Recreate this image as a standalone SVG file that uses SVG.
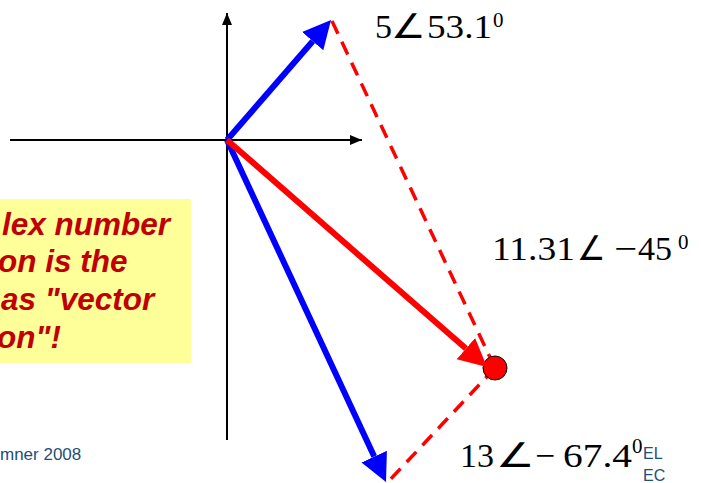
<svg xmlns="http://www.w3.org/2000/svg" width="701" height="483" viewBox="0 0 701 483">
<style>
.ax{stroke:#000;stroke-width:2;fill:none}
.vb{stroke:#0000FF;stroke-width:6;fill:none}
.vr{stroke:#FF0000;stroke-width:6;fill:none}
.dash{stroke:#FF0000;stroke-width:3.5;stroke-dasharray:14,9;fill:none}
.note{font-family:"Liberation Sans",Arial,sans-serif;font-weight:bold;font-style:italic;font-size:31.5px;fill:#C00000}
.math{font-family:"Liberation Serif","Times New Roman",serif;font-size:34px;fill:#000}
.sup{font-family:"Liberation Serif","Times New Roman",serif;font-size:21px;fill:#000}
.foot{font-family:"Liberation Sans",Arial,sans-serif;font-size:17px;fill:#1F4E79}
.foot2{font-family:"Liberation Sans",Arial,sans-serif;font-size:16px;fill:#1F4E79}
</style>
<defs>
<marker id="ahAx" markerUnits="userSpaceOnUse" markerWidth="14" markerHeight="12" refX="12" refY="5" orient="auto" viewBox="0 0 14 10"><path d="M0,0 L12,5 L0,10 Z" fill="#000"/></marker>
<marker id="ahB" markerUnits="userSpaceOnUse" markerWidth="30" markerHeight="30" refX="0" refY="14" orient="auto" viewBox="0 0 30 28"><path d="M0,0 L28,14 L0,28 Z" fill="#0000FF"/></marker>
<marker id="ahR" markerUnits="userSpaceOnUse" markerWidth="30" markerHeight="30" refX="0" refY="14" orient="auto" viewBox="0 0 30 28"><path d="M0,0 L28,14 L0,28 Z" fill="#FF0000"/></marker>
</defs>
<g id="note">
<rect x="0" y="199" width="191" height="164" fill="#FFFF99"/>
<text class="note" x="2" y="235">lex number</text>
<text class="note" x="-2" y="272">on is the</text>
<text class="note" x="1" y="310">as "vector</text>
<text class="note" x="-3" y="348">on"!</text>
</g>
<g id="axes">
<line class="ax" x1="227" y1="440" x2="227" y2="13" marker-end="url(#ahAx)"/>
<line class="ax" x1="10" y1="140" x2="362" y2="140" marker-end="url(#ahAx)"/>
</g>
<g id="connectors">
<line class="dash" x1="332" y1="21" x2="495" y2="368"/>
<line class="dash" x1="495" y1="368" x2="387" y2="483"/>
<line class="vb" x1="227" y1="140" x2="312.7" y2="41.2" marker-end="url(#ahB)"/>
<line class="vb" x1="227" y1="140" x2="374.2" y2="456.6" marker-end="url(#ahB)"/>
<circle id="dot" cx="495" cy="368" r="12" fill="#FF0000" stroke="#000" stroke-width="1"/>
<line class="vr" x1="227" y1="140" x2="465.9" y2="348.6" marker-end="url(#ahR)"/>
</g>
<g id="label1">
<text class="math" x="375" y="38">5</text>
<text class="math" x="391" y="38" textLength="34" lengthAdjust="spacingAndGlyphs">∠</text>
<text class="math" x="427" y="38" textLength="65" lengthAdjust="spacingAndGlyphs">53.1</text>
<text class="sup" x="493" y="27">0</text>
</g>
<g id="label2">
<text class="math" x="492" y="260" textLength="83" lengthAdjust="spacingAndGlyphs">11.31</text>
<text class="math" x="577" y="260" textLength="28" lengthAdjust="spacingAndGlyphs">∠</text>
<text class="math" x="614" y="260" textLength="23" lengthAdjust="spacingAndGlyphs">−</text>
<text class="math" x="638" y="260">45</text>
<text class="sup" x="678" y="249">0</text>
</g>
<g id="label3">
<text class="math" x="460" y="467">13</text>
<text class="math" x="496" y="467" textLength="38" lengthAdjust="spacingAndGlyphs">∠</text>
<text class="math" x="535" y="467" textLength="20" lengthAdjust="spacingAndGlyphs">−</text>
<text class="math" x="563" y="467" textLength="69" lengthAdjust="spacingAndGlyphs">67.4</text>
<text class="sup" x="632" y="453">0</text>
</g>
<g id="footer">
<text class="foot" x="0" y="460">mner 2008</text>
<text class="foot2" x="643" y="459">EL</text>
<text class="foot2" x="643" y="481">EC</text>
</g>
</svg>
